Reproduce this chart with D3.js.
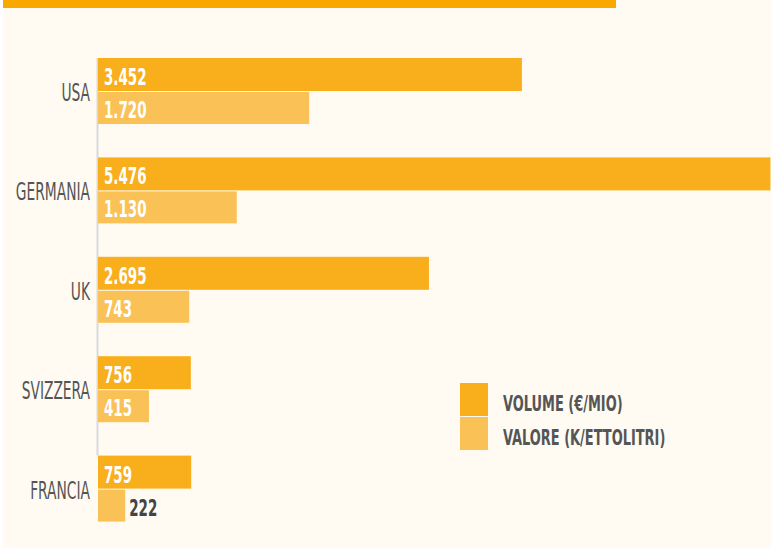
<!DOCTYPE html>
<html>
<head>
<meta charset="utf-8">
<script src="https://cdn.jsdelivr.net/npm/d3@7"></script>
<style>
  html, body { margin: 0; padding: 0; background: #ffffff; }
  svg { display: block; }
  text { font-family: "DejaVu Sans Condensed", "DejaVu Sans", sans-serif; }
</style>
</head>
<body>
<svg id="chart" width="771" height="550"></svg>
<script>
// Export by country: volume (€ million) and value (thousand hectolitres)
const countries = ["USA", "GERMANIA", "UK", "SVIZZERA", "FRANCIA"];
const volume = [3452, 5476, 2695, 756, 759];
const valore = [1720, 1130, 743, 415, 222];
const volumeLabels = ["3.452", "5.476", "2.695", "756", "759"];
const valoreLabels = ["1.720", "1.130", "743", "415", "222"];
const seriesNames = ["VOLUME (€/MIO)", "VALORE (K/ETTOLITRI)"];

const colVolume = "#f9ae1b";
const colValore = "#fac157";
const textDark = "#555555";

const svg = d3.select("#chart");
const W = 771, H = 550;

// page background and header strip
svg.append("rect").attr("x", 3).attr("y", 0).attr("width", W - 3).attr("height", H - 2).attr("fill", "#fffbf3");
svg.append("rect").attr("x", 3).attr("y", 0).attr("width", 613).attr("height", 8).attr("fill", "#f9a800");

const x0 = 98;
const x = d3.scaleLinear().domain([0, 1000]).range([x0, x0 + 122.8]);

const y = d3.scaleBand().domain(countries).range([58, 555]).paddingInner(0).paddingOuter(0);
const barH = 33;

const rows = countries.map((c, i) => ({
  c, vol: volume[i], val: valore[i], volL: volumeLabels[i], valL: valoreLabels[i]
}));

// vertical baseline
svg.append("line")
  .attr("x1", x0 - 0.5).attr("x2", x0 - 0.5)
  .attr("y1", y(countries[0])).attr("y2", y(countries[countries.length - 1]))
  .attr("stroke", "#d9d9d9").attr("stroke-width", 2);

const g = svg.selectAll("g.row").data(rows).enter().append("g")
  .attr("class", "row")
  .attr("transform", d => `translate(0,${y(d.c)})`);

g.append("rect")
  .attr("x", x(0)).attr("y", 0)
  .attr("width", d => x(d.vol) - x(0)).attr("height", barH)
  .attr("fill", colVolume);

g.append("rect")
  .attr("x", x(0)).attr("y", barH + 1)
  .attr("width", d => x(d.val) - x(0)).attr("height", barH - 1)
  .attr("fill", colValore);

// condensed look: face squeezed horizontally
function condensed(sel, sx) {
  return sel.attr("transform", function () {
    const tx = +d3.select(this).attr("data-x");
    const ty = +d3.select(this).attr("data-y");
    return `translate(${tx},${ty}) scale(${sx},1)`;
  });
}

const shortBar = d => x(d.val) - x(0) < 50;

// value labels
g.append("text")
  .attr("data-x", x(0) + 6).attr("data-y", 27)
  .text(d => d.volL)
  .attr("fill", "#ffffff").attr("font-size", 23).attr("font-weight", "bold")
  .call(condensed, 0.65);

g.append("text")
  .attr("data-x", d => (shortBar(d) ? x(d.val) + 4 : x(0) + 6))
  .attr("data-y", 60)
  .text(d => d.valL)
  .attr("fill", d => (shortBar(d) ? "#444444" : "#ffffff"))
  .attr("font-size", 23).attr("font-weight", "bold")
  .call(condensed, 0.65);

// category labels
g.append("text")
  .attr("data-x", 90).attr("data-y", 43)
  .attr("text-anchor", "end")
  .text(d => d.c)
  .attr("fill", textDark).attr("font-size", 24).attr("font-weight", 300)
  .call(condensed, 0.64);

// legend
const legend = svg.append("g").attr("transform", "translate(460,383)");
[colVolume, colValore].forEach((c, i) => {
  legend.append("rect").attr("x", 0).attr("y", i * 34).attr("width", 28).attr("height", 33).attr("fill", c);
  legend.append("text")
    .attr("data-x", 43).attr("data-y", i * 34 + 28)
    .text(seriesNames[i])
    .attr("fill", textDark).attr("font-size", 22).attr("font-weight", "bold")
    .call(condensed, 0.655);
});
</script>
</body>
</html>
